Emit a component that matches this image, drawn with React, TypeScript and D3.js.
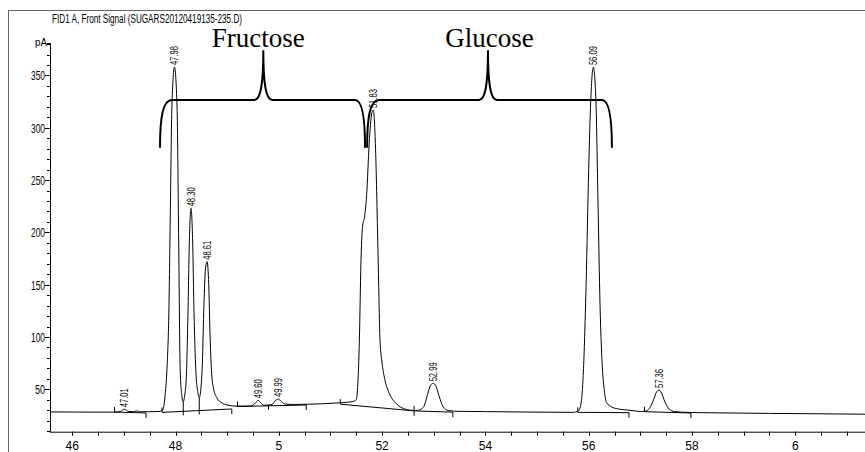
import React from "react";
import * as d3 from "d3";

const W = 865;
const H = 452;

const title = "FID1 A, Front Signal (SUGARS20120419135-235.D)";
const yUnit = "pA";

const xLabelValues = [46, 48, 50, 52, 54, 56, 58, 60];
const xLabelTexts = ["46", "48", "5", "52", "54", "56", "58", "6"];
const xTickValues = d3.range(46, 61.01, 0.5);
const yLabelValues = [50, 100, 150, 200, 250, 300, 350];
const yMinorValues = d3.range(10, 381, 10);

// chromatogram trace: [retention time (min), signal (pA)]
const trace: [number, number][] = [
  [45.57, 28.4], [46.0, 28.3], [46.5, 28.2], [46.85, 28.2], [46.93, 28.8], [47.01, 31.0], [47.09, 28.9],
  [47.18, 28.6], [47.25, 29.3], [47.32, 28.6], [47.5, 28.6], [47.68, 28.8],
  [47.75, 30], [47.8, 45], [47.84, 75], [47.87, 120], [47.9, 220], [47.93, 320], [47.98, 358],
  [48.03, 320], [48.06, 200], [48.09, 70], [48.12, 45], [48.15, 38],
  [48.18, 45], [48.21, 62], [48.24, 120], [48.27, 195], [48.3, 223], [48.33, 195], [48.36, 120],
  [48.4, 62], [48.43, 48], [48.46, 42],
  [48.49, 50], [48.52, 75], [48.55, 130], [48.58, 165], [48.61, 172], [48.64, 155], [48.67, 100],
  [48.7, 65], [48.74, 50], [48.8, 42], [48.9, 37], [49.0, 35], [49.15, 34], [49.3, 33.9], [49.45, 34.1],
  [49.5, 34.8], [49.55, 37], [49.6, 39.5], [49.65, 37.2], [49.71, 34.8], [49.8, 35],
  [49.87, 35.6], [49.93, 39], [49.99, 40.7], [50.05, 38.3], [50.13, 35.8], [50.3, 35.5], [50.6, 35.8],
  [50.9, 36.3], [51.2, 37.2], [51.42, 38.2],
  [51.5, 40], [51.53, 55], [51.56, 97], [51.59, 170], [51.62, 205], [51.66, 215], [51.7, 235],
  [51.75, 285], [51.8, 314], [51.83, 317], [51.87, 285], [51.92, 183], [51.96, 97], [52.0, 75],
  [52.06, 58], [52.15, 45], [52.28, 36], [52.42, 31.5], [52.55, 30], [52.68, 29.8],
  [52.8, 33], [52.88, 45], [52.94, 54], [52.99, 55.7], [53.04, 53.5], [53.1, 44], [53.18, 33.5],
  [53.28, 29.8], [53.45, 29], [54.0, 28.7], [55.0, 28.2], [55.7, 28],
  [55.8, 29.5], [55.85, 36], [55.9, 70], [55.95, 150], [56.0, 260], [56.04, 326], [56.09, 358],
  [56.14, 326], [56.18, 230], [56.22, 130], [56.26, 75], [56.3, 50], [56.35, 37], [56.45, 33],
  [56.6, 31], [56.8, 30], [57.0, 28.8],
  [57.1, 29.2], [57.18, 32], [57.26, 40.5], [57.32, 48], [57.36, 49.3], [57.4, 47.5], [57.48, 37.5],
  [57.56, 31], [57.66, 28.8], [57.9, 28], [58.5, 27.5], [59.5, 27], [60.5, 26.6], [61.35, 26.2],
];

// peak labels (retention times) and apex signal
const peakTimes = [47.01, 47.98, 48.3, 48.61, 49.6, 49.99, 51.83, 52.99, 56.09, 57.36];
const peakApex = [31.0, 358, 223, 172, 39.5, 40.7, 317, 55.7, 358, 49.3];
const peakLabels = ["47.01", "47.98", "48.30", "48.61", "49.60", "49.99", "51.83", "52.99", "56.09", "57.36"];

// integration baselines: start [t, v], end [t, v], drop lines at t
const baseStart: [number, number][] = [
  [46.82, 28.3], [47.74, 28.0], [49.2, 33.6], [51.19, 35.8], [52.62, 29.4], [55.79, 28.0], [57.08, 28.6],
];
const baseEnd: [number, number][] = [
  [47.43, 27.4], [49.09, 31.2], [50.53, 35.0], [52.62, 29.4], [53.37, 28.2], [56.78, 27.7], [57.98, 27.4],
];
const baseDrops: number[][] = [[], [48.15, 48.46], [49.8], [], [], [], []];

// compound annotation braces
const compoundNames = ["Fructose", "Glucose"];
const braceStart = [47.7, 51.71];
const braceEnd = [51.67, 56.45];
const braceTip = [49.7, 54.05];
const compoundTextCenter = [49.6, 54.08];
const braceLevel = 326.5;
const braceTipLevel = 374;
const braceEndLevel = 281;

export default function App() {
  const x = d3.scaleLinear().domain([45.57, 61.35]).range([50, 865]);
  const y = d3.scaleLinear().domain([9.5, 382]).range([431.7, 42]);
  const x0 = x.range()[0];
  const y0 = y.range()[0];

  const line = d3
    .line<[number, number]>()
    .x((d) => x(d[0]))
    .y((d) => y(d[1]))
    .curve(d3.curveMonotoneX);

  const signalAt = (t: number) => {
    const i = d3.bisector((d: [number, number]) => d[0]).left(trace, t);
    const a = trace[Math.max(0, i - 1)];
    const b = trace[Math.min(trace.length - 1, i)];
    if (a[0] === b[0]) return a[1];
    return a[1] + ((b[1] - a[1]) * (t - a[0])) / (b[0] - a[0]);
  };

  const bracePath = (i: number) => {
    const xs = x(braceStart[i]);
    const xe = x(braceEnd[i]);
    const xt = x(braceTip[i]);
    const yl = y(braceLevel);
    const yt = y(braceTipLevel);
    const ye = y(braceEndLevel);
    return [
      `M${xs},${ye}`,
      `C${xs},${yl + 16} ${xs + 3},${yl} ${xs + 12},${yl}`,
      `L${xt - 9},${yl}`,
      `C${xt - 3},${yl} ${xt},${yl - 14} ${xt},${yt}`,
      `C${xt},${yl - 14} ${xt + 3},${yl} ${xt + 9},${yl}`,
      `L${xe - 10},${yl}`,
      `C${xe - 3},${yl} ${xe},${yl + 16} ${xe},${ye}`,
    ].join(" ");
  };

  const font = "'Liberation Sans', Arial, sans-serif";

  return (
    <svg
      width={W}
      height={H}
      style={{ position: "absolute", left: 0, top: 0, background: "#fff" }}
    >
      {/* frame */}
      <line x1={8.5} y1={10} x2={8.5} y2={H} stroke="#666" strokeWidth={1} />
      <line x1={8} y1={10.5} x2={W} y2={10.5} stroke="#666" strokeWidth={1} />

      {/* title */}
      <text
        x={52}
        y={23}
        fontFamily={font}
        fontSize={12}
        textLength={190}
        lengthAdjust="spacingAndGlyphs"
        fill="#000"
      >
        {title}
      </text>

      {/* y axis */}
      <line x1={x0 + 0.5} y1={43} x2={x0 + 0.5} y2={y0} stroke="#000" />
      <line x1={x0 - 3} y1={43.5} x2={x0} y2={43.5} stroke="#000" />
      <text x={35} y={46} fontFamily={font} fontSize={10} textLength={12} lengthAdjust="spacingAndGlyphs">
        {yUnit}
      </text>
      {yMinorValues.map((v) => (
        <line key={"ym" + v} x1={x0 - 3} x2={x0} y1={Math.round(y(v)) + 0.5} y2={Math.round(y(v)) + 0.5} stroke="#000" />
      ))}
      {yLabelValues.map((v) => {
        const s = String(v);
        const len = s.length === 3 ? 14 : 10;
        return (
          <g key={"yl" + v}>
            <line x1={x0 - 5} x2={x0} y1={Math.round(y(v)) + 0.5} y2={Math.round(y(v)) + 0.5} stroke="#000" />
            <text
              x={45 - len}
              y={y(v) + 5}
              fontFamily={font}
              fontSize={13}
              textLength={len}
              lengthAdjust="spacingAndGlyphs"
            >
              {s}
            </text>
          </g>
        );
      })}

      {/* x axis */}
      <line x1={x0} y1={y0 + 0.5} x2={W} y2={y0 + 0.5} stroke="#000" />
      {xTickValues.map((t) => (
        <line key={"xt" + t} x1={Math.round(x(t)) + 0.5} x2={Math.round(x(t)) + 0.5} y1={y0} y2={y0 + 4} stroke="#000" />
      ))}
      {xLabelValues.map((t, i) => (
        <text key={"xl" + t} x={x(t)} y={449.5} textAnchor="middle" fontFamily={font} fontSize={12}>
          {xLabelTexts[i]}
        </text>
      ))}

      {/* integration baselines */}
      {baseStart.map((s, i) => {
        const e = baseEnd[i];
        const bl = d3.scaleLinear().domain([s[0], e[0]]).range([s[1], e[1]]);
        return (
          <g key={"bl" + i} stroke="#000" strokeWidth={1}>
            <line x1={x(s[0])} y1={y(s[1])} x2={x(e[0])} y2={y(e[1])} />
            <line x1={x(s[0])} y1={y(s[1]) - 5} x2={x(s[0])} y2={y(s[1])} />
            <line x1={x(e[0])} y1={y(e[1])} x2={x(e[0])} y2={y(e[1]) + 5} />
            {baseDrops[i].map((t) => (
              <line key={"d" + t} x1={x(t)} y1={y(signalAt(t))} x2={x(t)} y2={y(bl(t)) + 4} />
            ))}
          </g>
        );
      })}

      {/* signal trace */}
      <path d={line(trace) || ""} fill="none" stroke="#000" strokeWidth={1} />

      {/* peak labels */}
      {peakTimes.map((t, i) => {
        const px = x(t) + 4;
        const py = y(peakApex[i]) - 2;
        return (
          <text
            key={"pk" + i}
            x={px}
            y={py}
            transform={`rotate(-90 ${px} ${py})`}
            fontFamily={font}
            fontSize={11.5}
            textLength={19}
            lengthAdjust="spacingAndGlyphs"
          >
            {peakLabels[i]}
          </text>
        );
      })}

      {/* braces and compound names */}
      {compoundNames.map((n, i) => (
        <g key={"br" + i}>
          <path d={bracePath(i)} fill="none" stroke="#000" strokeWidth={2} />
          <text
            x={x(compoundTextCenter[i])}
            y={47}
            textAnchor="middle"
            fontFamily="'Liberation Serif', 'Times New Roman', serif"
            fontSize={27}
          >
            {n}
          </text>
        </g>
      ))}
    </svg>
  );
}
